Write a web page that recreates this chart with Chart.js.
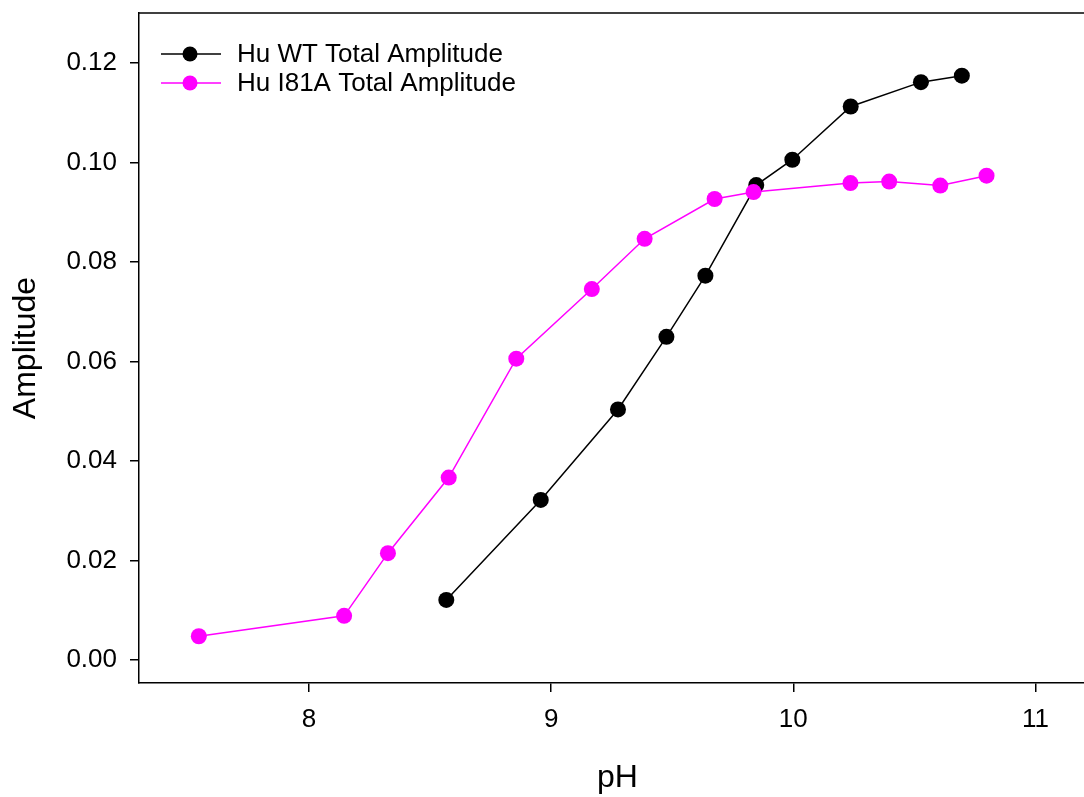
<!DOCTYPE html>
<html>
<head>
<meta charset="utf-8">
<title>Total amplitude vs pH</title>
<script src="https://cdn.jsdelivr.net/npm/chart.js@4"></script>
<style>
  html, body { margin: 0; padding: 0; background: #fff; overflow: hidden; }
  #ampChart { display: block; }
</style>
</head>
<body>
<canvas id="ampChart" width="1104" height="797"></canvas>
<script>
// Hu WT
var phWT  = [8.567, 8.957, 9.276, 9.476, 9.637, 9.847, 9.996, 10.237, 10.527, 10.696];
var ampWT = [0.0121, 0.0322, 0.0504, 0.0650, 0.0773, 0.0955, 0.1006, 0.1113, 0.1162, 0.1175];

// Hu I81A
var phI81A  = [7.545, 8.145, 8.326, 8.577, 8.856, 9.168, 9.386, 9.675, 9.836, 10.236, 10.396, 10.607, 10.798];
var ampI81A = [0.0048, 0.0089, 0.0215, 0.0367, 0.0606, 0.0746, 0.0847, 0.0927, 0.0941, 0.0959, 0.0962, 0.0954, 0.0974];

var xTicks = [8, 9, 10, 11];
var yTicks = [0.00, 0.02, 0.04, 0.06, 0.08, 0.10, 0.12];

function toPoints(xs, ys) {
  var pts = [];
  for (var i = 0; i < xs.length; i++) {
    pts.push({ x: xs[i], y: ys[i] });
  }
  return pts;
}

Chart.defaults.font.family = '"Liberation Sans", Arial, sans-serif';
Chart.defaults.color = '#000';

// top frame line + legend with line-and-marker samples
var frameAndLegend = {
  id: 'frameAndLegend',
  afterDraw: function (chart) {
    var ctx = chart.ctx;
    var a = chart.chartArea;
    ctx.save();
    ctx.strokeStyle = '#000';
    ctx.lineWidth = 1.5;
    ctx.beginPath();
    ctx.moveTo(a.left, a.top);
    ctx.lineTo(a.right, a.top);
    ctx.stroke();

    var rowY = [54, 83];
    ctx.font = '26px "Liberation Sans", Arial, sans-serif';
    ctx.textBaseline = 'middle';
    ctx.textAlign = 'left';
    chart.data.datasets.forEach(function (ds, i) {
      var y = rowY[i];
      ctx.strokeStyle = ds.borderColor;
      ctx.lineWidth = 1.5;
      ctx.beginPath();
      ctx.moveTo(161, y);
      ctx.lineTo(221, y);
      ctx.stroke();
      ctx.fillStyle = ds.backgroundColor;
      ctx.beginPath();
      ctx.arc(190, y, 7.5, 0, Math.PI * 2);
      ctx.fill();
      ctx.fillStyle = '#000';
      ctx.fillText(ds.label, 237, y + 1);
    });
    ctx.restore();
  }
};

// keep the plot box fixed: no extra room for overhanging tick labels
function noLabelPadding(s) {
  s.paddingTop = 0;
  s.paddingBottom = 0;
  s.paddingLeft = 0;
  s.paddingRight = 0;
}

new Chart(document.getElementById('ampChart'), {
  type: 'scatter',
  data: {
    datasets: [
      {
        label: 'Hu WT Total Amplitude',
        data: toPoints(phWT, ampWT),
        showLine: true,
        borderColor: '#000000',
        backgroundColor: '#000000',
        borderWidth: 1.5,
        pointRadius: 8,
        pointBorderWidth: 0,
        order: 1
      },
      {
        label: 'Hu I81A Total Amplitude',
        data: toPoints(phI81A, ampI81A),
        showLine: true,
        borderColor: '#ff00ff',
        backgroundColor: '#ff00ff',
        borderWidth: 1.5,
        pointRadius: 8,
        pointBorderWidth: 0,
        order: 0
      }
    ]
  },
  options: {
    responsive: false,
    animation: false,
    events: [],
    layout: { padding: { top: 13, right: 0, bottom: 0, left: 0 } },
    plugins: {
      legend: { display: false },
      tooltip: { enabled: false }
    },
    scales: {
      x: {
        type: 'linear',
        min: 7.298,
        max: 11.25,
        afterBuildTicks: function (s) {
          s.ticks = xTicks.map(function (v) { return { value: v }; });
        },
        afterFit: function (s) {
          s.height = 114;
          noLabelPadding(s);
        },
        ticks: {
          font: { size: 26 },
          color: '#000',
          padding: 12,
          callback: function (v) { return String(v); }
        },
        grid: {
          display: true,
          drawOnChartArea: false,
          drawTicks: true,
          tickLength: 9,
          color: '#000',
          lineWidth: 1.5
        },
        border: { display: true, color: '#000', width: 1.5 },
        title: {
          display: true,
          text: 'pH',
          font: { size: 32 },
          color: '#000',
          padding: { top: -3, bottom: 0 }
        }
      },
      y: {
        type: 'linear',
        min: -0.0046,
        max: 0.1301,
        afterBuildTicks: function (s) {
          s.ticks = yTicks.map(function (v) { return { value: v }; });
        },
        afterFit: function (s) {
          s.width = 139;
          noLabelPadding(s);
        },
        ticks: {
          font: { size: 26 },
          color: '#000',
          padding: 13,
          callback: function (v) { return Number(v).toFixed(2); }
        },
        grid: {
          display: true,
          drawOnChartArea: false,
          drawTicks: true,
          tickLength: 9,
          color: '#000',
          lineWidth: 1.5
        },
        border: { display: true, color: '#000', width: 1.5 },
        title: {
          display: true,
          text: 'Amplitude',
          font: { size: 32 },
          color: '#000',
          padding: { top: 7, bottom: 0 }
        }
      }
    }
  },
  plugins: [frameAndLegend]
});
</script>
</body>
</html>
